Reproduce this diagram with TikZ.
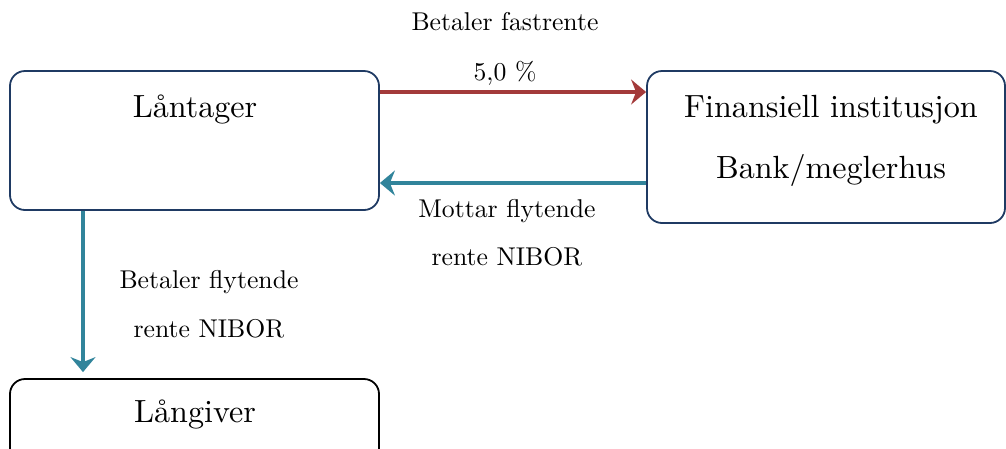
\documentclass[tikz,border=0pt]{standalone}
\usepackage{fontspec}
\setmainfont{lmroman10-regular}[Extension=.otf]
\usetikzlibrary{arrows.meta,calc}
\definecolor{boxblue}{HTML}{1F3A63}
\definecolor{payred}{HTML}{A33A3A}
\definecolor{floatteal}{HTML}{31849B}
\tikzset{
  party/.style={draw=boxblue, line width=1.8pt, rounded corners=15pt, inner sep=0pt},
  lender/.style={party, draw=black},
  smalltxt/.style={anchor=base, inner sep=0pt, font=\fontsize{25.7}{31}\selectfont},
  bigtxt/.style={anchor=base, inner sep=0pt, font=\fontsize{32.1}{38}\selectfont},
  flow/.style={line width=3.6pt, -{Stealth[length=15pt, width=25pt, inset=5pt]}},
}
\begin{document}
\begin{tikzpicture}[x=1pt, y=-1pt]
  \useasboundingbox (0,0) rectangle (1006,448);
  \clip (0,0) rectangle (1006,448);

  % parties
  \node[party, minimum width=369pt, minimum height=139pt] (lan) at (194.5,140.5) {};
  \node[party, minimum width=358pt, minimum height=152pt] (fin) at (826,147) {};
  \node[lender, minimum width=369pt, minimum height=90pt] (giver) at (194.5,424) {};

  % party names
  \node[bigtxt] (lanname) at (195,117) {Låntager};
  \node[bigtxt] (finname) at (831,117) {Finansiell institusjon};
  \node[bigtxt] (finsub) at (831,178) {Bank/meglerhus};
  \node[bigtxt] (givername) at (195,422) {Långiver};

  % payment flows
  \draw[flow, draw=payred, color=payred] (lan.east |- 0,92) -- (fin.west |- 0,92);
  \draw[flow, draw=floatteal, color=floatteal] (fin.west |- 0,183) -- (lan.east |- 0,183);
  \draw[flow, draw=floatteal, color=floatteal] (lan.south -| 83,0) -- ($(giver.north -| 83,0)+(0,-6)$);

  % flow labels
  \node[smalltxt] (fixa) at (505,30) {Betaler fastrente};
  \node[smalltxt] (fixb) at (505,80) {5,0 \%};
  \node[smalltxt] (recva) at (507,217) {Mottar flytende};
  \node[smalltxt] (recvb) at (507,265) {rente NIBOR};
  \node[smalltxt] (paya) at (209,288) {Betaler flytende};
  \node[smalltxt] (payb) at (209,337) {rente NIBOR};
\end{tikzpicture}
\end{document}
